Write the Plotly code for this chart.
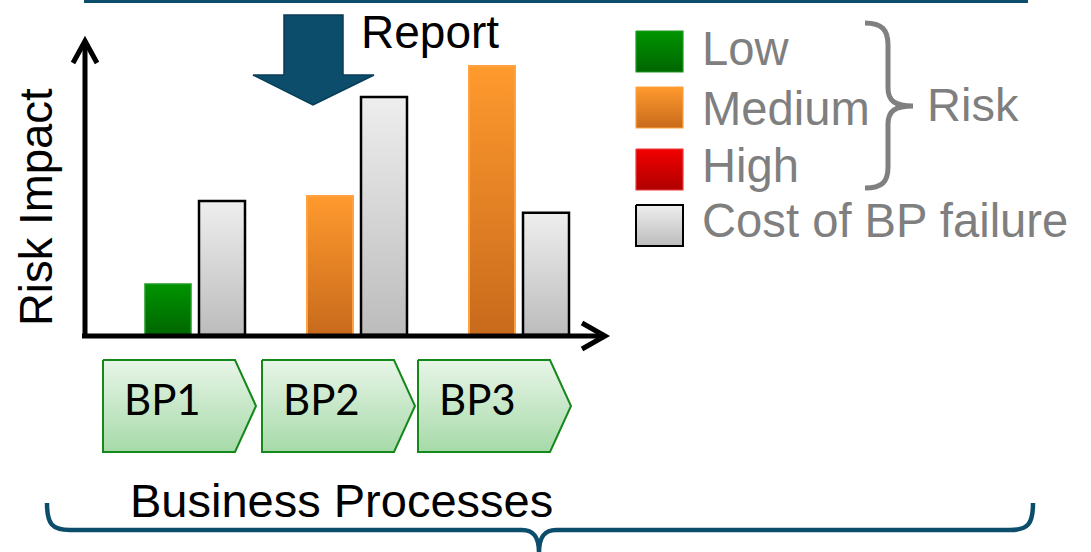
import plotly.graph_objects as go

# ---------------- data ----------------
categories = ["BP1", "BP2", "BP3"]
risk_level = ["Low", "Medium", "Medium"]
risk_impact = [1.73, 4.71, 9.12]
failure_cost = [4.54, 8.07, 4.14]
legend_labels = ["Low", "Medium", "High", "Cost of BP failure"]
group_label = "Risk"
x_title = "Business Processes"
y_title = "Risk Impact"
report_label = "Report"

# ---------------- styles / layout constants ----------------
W, H = 1091, 552
FONT = "Liberation Sans, Arial, sans-serif"
BP_FONT = "Lato, Carlito, sans-serif"
TEAL = "#0b4d6b"
GREY_TXT = "#7f7f7f"

level_style = {
    "Low": dict(top="#009400", bottom="#006600", line="#1f9a24", lw=1.5),
    "Medium": dict(top="#ff9a2e", bottom="#c86a1c", line="#ffa23f", lw=2),
    "High": dict(top="#f20000", bottom="#b00000", line="#f03a3a", lw=1.5),
}
cost_style = dict(top="#eeeeee", bottom="#bcbcbc", line="#000000", lw=2.5)

# plot-area in pixels
PX_L, PX_R, PX_B, PX_T = 85, 605, 335, 40
CAT0_PX, CAT_STEP_PX = 195, 162
BAR_OFF = 27 / CAT_STEP_PX
BAR_W = 46 / CAT_STEP_PX
Y_MAX = 10

x_lo = (PX_L - CAT0_PX) / CAT_STEP_PX
x_hi = (PX_R - CAT0_PX) / CAT_STEP_PX

fig = go.Figure()


def grad_rect(x0, x1, y0, y1, top, bottom, line, lw, xa="x", ya="y", canvas=False):
    if canvas:
        cs = [[0, top], [1, bottom]]
    else:
        cs = [[0, bottom], [1, top]]
    return go.Scatter(
        x=[x0, x1, x1, x0, x0], y=[y0, y0, y1, y1, y0],
        xaxis=xa, yaxis=ya, mode="lines", fill="toself",
        fillgradient=dict(type="vertical", colorscale=cs, start=y0, stop=y1),
        line=dict(color=line, width=lw), hoverinfo="skip", showlegend=False,
    )


# bars (data coordinates)
for i, (lvl, r, c) in enumerate(zip(risk_level, risk_impact, failure_cost)):
    s = level_style[lvl]
    xc = i - BAR_OFF
    fig.add_trace(grad_rect(xc - BAR_W / 2, xc + BAR_W / 2, 0, r, s["top"], s["bottom"], s["line"], s["lw"]))
    xc = i + BAR_OFF
    fig.add_trace(grad_rect(xc - BAR_W / 2, xc + BAR_W / 2, 0, c, cost_style["top"], cost_style["bottom"],
                            cost_style["line"], cost_style["lw"]))

# legend swatches (canvas pixels)
LEG_X0, LEG_X1 = 636, 683
leg_tops = [31, 87, 149, 205]
leg_h = 41
leg_styles = [level_style["Low"], level_style["Medium"], level_style["High"], cost_style]
for t, s in zip(leg_tops, leg_styles):
    fig.add_trace(grad_rect(LEG_X0, LEG_X1, t, t + leg_h, s["top"], s["bottom"], s["line"],
                            2 if s is cost_style else 1.2, xa="x2", ya="y2", canvas=True))

# business-process chevrons (canvas pixels)
chev_left = [103, 262, 418]
chev_w, chev_tip = 132, 21
chev_top, chev_bot = 360, 452
for xl in chev_left:
    xs = [xl, xl + chev_w, xl + chev_w + chev_tip, xl + chev_w, xl, xl]
    ys = [chev_top, chev_top, (chev_top + chev_bot) / 2, chev_bot, chev_bot, chev_top]
    fig.add_trace(go.Scatter(
        x=xs, y=ys, xaxis="x2", yaxis="y2", mode="lines", fill="toself",
        fillgradient=dict(type="vertical", colorscale=[[0, "#e8f5e8"], [1, "#a6daa8"]],
                          start=chev_top, stop=chev_bot),
        line=dict(color="#14881a", width=2), hoverinfo="skip", showlegend=False))

shapes = [
    dict(type="path", path="M 84 1.5 L 1028 1.5", line=dict(color=TEAL, width=3)),
    dict(type="path", path="M 85 338 L 85 41", line=dict(color="black", width=5)),
    dict(type="path", path="M 73 63 L 85 41 L 97 63", line=dict(color="black", width=5)),
    dict(type="path", path="M 82 336 L 604 336", line=dict(color="black", width=5)),
    dict(type="path", path="M 582 323 L 605 336 L 582 349", line=dict(color="black", width=5)),
    dict(type="path", path="M 284 15 L 343 15 L 343 75 L 374 75 L 313 105 L 253 75 L 284 75 Z",
         fillcolor=TEAL, line=dict(color="#083d57", width=1.5)),
    dict(type="path",
         path="M 865 23 C 882 23, 888 30, 888 45 L 888 88 C 888 101, 895 106, 913 106 "
              "C 895 106, 888 111, 888 124 L 888 167 C 888 182, 882 188, 865 188",
         line=dict(color="#808080", width=5)),
    dict(type="path",
         path="M 47 503 C 47 524, 52 530, 70 530 L 522 530 C 533 530, 539 536, 539 553 "
              "C 539 536, 545 530, 556 530 L 1010 530 C 1028 530, 1033 524, 1033 503",
         line=dict(color=TEAL, width=4.5)),
]
for s in shapes:
    s.update(xref="x2", yref="y2", layer="above")

ann = []
ann.append(dict(text=report_label, x=359, y=32, xanchor="left", yanchor="middle",
                font=dict(family=FONT, size=46, color="black")))
ann.append(dict(text=y_title, x=36, y=207, textangle=-90, xanchor="center", yanchor="middle",
                font=dict(family=FONT, size=45.5, color="black")))
ann.append(dict(text=x_title, x=341, y=500, xanchor="center", yanchor="middle",
                font=dict(family=FONT, size=47, color="black")))
for lab, yc in zip(legend_labels, [48.5, 108, 165, 220]):
    ann.append(dict(text=lab, x=700, y=yc, xanchor="left", yanchor="middle",
                    font=dict(family=FONT, size=47.2, color=GREY_TXT)))
ann.append(dict(text=group_label, x=925, y=104, xanchor="left", yanchor="middle",
                font=dict(family=FONT, size=47, color=GREY_TXT)))
for lab, xl in zip(categories, chev_left):
    ann.append(dict(text=lab, x=xl + 19, y=399, xanchor="left", yanchor="middle",
                    font=dict(family=BP_FONT, size=42, color="black")))
for a in ann:
    a.update(xref="x2", yref="y2", showarrow=False)

hidden = dict(visible=False, showgrid=False, zeroline=False, fixedrange=True)
fig.update_layout(
    width=W, height=H, margin=dict(l=0, r=0, t=0, b=0),
    paper_bgcolor="white", plot_bgcolor="rgba(0,0,0,0)", showlegend=False,
    xaxis=dict(domain=[PX_L / W, PX_R / W], range=[x_lo, x_hi], **hidden),
    yaxis=dict(domain=[(H - PX_B) / H, (H - PX_T) / H], range=[0, Y_MAX], **hidden),
    xaxis2=dict(domain=[0, 1], range=[0, W], anchor="y2", **hidden),
    yaxis2=dict(domain=[0, 1], range=[H, 0], anchor="x2", **hidden),
    shapes=shapes, annotations=ann,
)

fig.write_html("out.html", config=dict(displayModeBar=False))
